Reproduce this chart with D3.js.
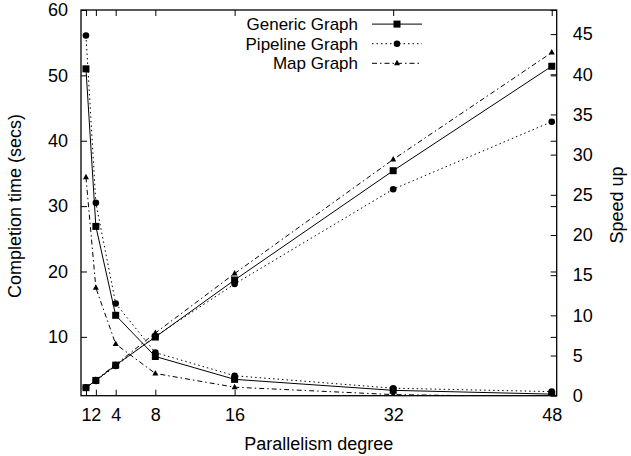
<!DOCTYPE html>
<html><head><meta charset="utf-8">
<script src="https://cdn.jsdelivr.net/npm/d3@7"></script>
<style>
body{margin:0;background:#fff}
text{font-family:"Liberation Sans",Arial,Helvetica,sans-serif;font-size:18px;fill:#000}
</style></head>
<body><svg id="c" width="631" height="456"></svg>
<script>
const degrees=[1,2,4,8,16,32,48];
const xTicks=[1,2,4,8,16,32,48];
const leftTicks=[10,20,30,40,50,60];
const rightTicks=[0,5,10,15,20,25,30,35,40,45];
const genericTime=[51.0,26.9,13.3,7.0,3.5,1.82,1.24];
const pipelineTime=[56.1,30.5,15.1,7.6,4.05,2.15,1.62];
const mapTime=[34.4,17.5,8.9,4.4,2.3,1.17,0.81];
const genericSpeedup=[1,1.9,3.8,7.3,14.4,28.0,41.0];
const pipelineSpeedup=[1,1.84,3.7,7.4,13.9,25.7,34.1];
const mapSpeedup=[1,1.97,3.87,7.8,15.2,29.4,42.7];
const seriesNames=["Generic Graph","Pipeline Graph","Map Graph"];

const L=81,R=556.7,T=10,B=395.7;
const svg=d3.select("#c");
const x=d3.scaleLinear().domain([0.5,48.5]).range([L,R]);
const yL=d3.scaleLinear().domain([1,60]).range([B,T]);
const yR=d3.scaleLinear().domain([0,48]).range([B,T]);

const styles=[
  {dash:null,marker:"square"},
  {dash:"1.5,3",marker:"circle"},
  {dash:"5,3,1.5,3",marker:"triangle"}
];
const timeData=[genericTime,pipelineTime,mapTime];
const speedData=[genericSpeedup,pipelineSpeedup,mapSpeedup];

svg.append("clipPath").attr("id","clip").append("rect")
  .attr("x",L).attr("y",T).attr("width",R-L).attr("height",B-T);

// axes
const gx=svg.append("g").attr("transform",`translate(0,${B})`)
  .call(d3.axisBottom(x).tickValues(xTicks).tickSize(-6).tickPadding(13));
const gxt=svg.append("g").attr("transform",`translate(0,${T})`)
  .call(d3.axisTop(x).tickValues(xTicks).tickSize(-6).tickFormat(""));
const gl=svg.append("g").attr("transform",`translate(${L},0)`)
  .call(d3.axisLeft(yL).tickValues(leftTicks).tickSize(-6).tickPadding(13));
const glm=svg.append("g").attr("transform",`translate(${R},0)`)
  .call(d3.axisRight(yL).tickValues(leftTicks).tickSize(-6).tickFormat(""));
const gr=svg.append("g").attr("transform",`translate(${R},0)`)
  .call(d3.axisRight(yR).tickValues(rightTicks).tickSize(-6).tickPadding(16));
[gx,gxt,gl,glm,gr].forEach(g=>{
  g.select(".domain").remove();
  g.selectAll("line").attr("stroke","#000").attr("stroke-width",1);
  g.selectAll("text").attr("font-size",null).attr("font-family",null);
  g.attr("font-size",null).attr("font-family",null);
});

svg.append("rect").attr("x",L).attr("y",T).attr("width",R-L).attr("height",B-T)
  .attr("fill","none").attr("stroke","#000").attr("stroke-width",1.3);

function marker(g,type,cx,cy){
  if(type==="square") g.append("rect").attr("x",cx-3.5).attr("y",cy-3.5).attr("width",7).attr("height",7).attr("fill","#000");
  else if(type==="circle") g.append("circle").attr("cx",cx).attr("cy",cy).attr("r",3.3).attr("fill","#000");
  else g.append("path").attr("d",`M${cx},${cy-3.5}L${cx+3},${cy+2}L${cx-3},${cy+2}Z`).attr("fill","#000");
}

const plot=svg.append("g").attr("clip-path","url(#clip)");
function drawSeries(vals,yS,st){
  const pts=degrees.map((d,i)=>[x(d),yS(vals[i])]);
  plot.append("path").attr("d",d3.line()(pts)).attr("fill","none")
    .attr("stroke","#000").attr("stroke-width",1)
    .attr("stroke-dasharray",st.dash);
  pts.forEach(p=>marker(plot,st.marker,p[0],p[1]));
}
styles.forEach((st,i)=>{drawSeries(timeData[i],yL,st);drawSeries(speedData[i],yR,st);});

// legend
const legY=[24.1,43.7,63.3];
seriesNames.forEach((n,i)=>{
  svg.append("text").attr("x",358).attr("y",legY[i]).attr("dy","0.35em")
    .attr("text-anchor","end").style("font-size","17px").text(n);
  svg.append("line").attr("x1",372).attr("x2",422).attr("y1",legY[i]).attr("y2",legY[i])
    .attr("stroke","#000").attr("stroke-width",1).attr("stroke-dasharray",styles[i].dash);
  marker(svg,styles[i].marker,397,legY[i]);
});

// labels
svg.append("text").attr("x",(L+R)/2).attr("y",450).attr("text-anchor","middle").text("Parallelism degree");
svg.append("text").attr("transform","translate(21,206) rotate(-90)").attr("text-anchor","middle").text("Completion time (secs)");
svg.append("text").attr("transform","translate(623,205) rotate(-90)").attr("text-anchor","middle").text("Speed up");
</script></body></html>
